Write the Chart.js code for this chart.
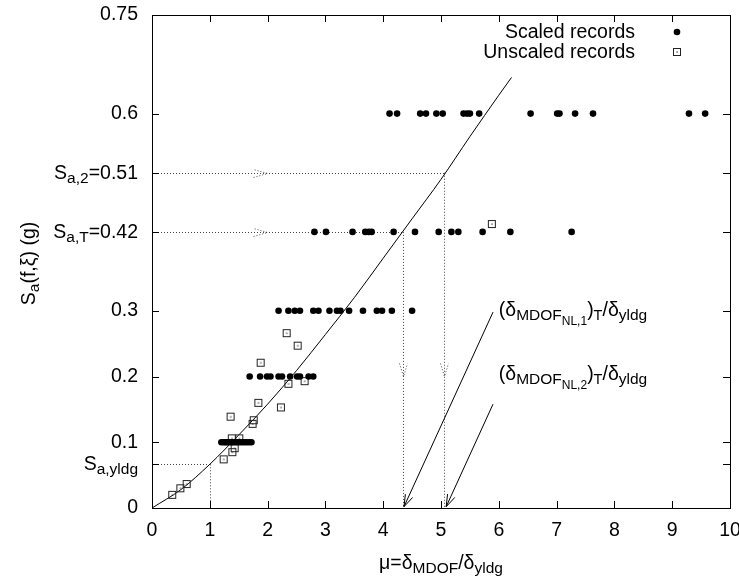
<!DOCTYPE html>
<html>
<head>
<meta charset="utf-8">
<script src="https://cdn.jsdelivr.net/npm/chart.js@4/dist/chart.umd.min.js"></script>
<style>
  body { margin: 0; background: #fff; }
  canvas { display: block; }
</style>
</head>
<body>
<canvas id="chart" width="739" height="578"></canvas>
<script>
"use strict";

// scaled records, one list of mu values per Sa level
const scaledLevels = [0.1, 0.2, 0.3, 0.42, 0.6];
const scaledMu = [
  [1.20, 1.24, 1.27, 1.30, 1.33, 1.37, 1.40, 1.44, 1.48, 1.52, 1.56, 1.60, 1.64, 1.68, 1.72],
  [1.69, 1.87, 1.99, 2.05, 2.19, 2.25, 2.39, 2.51, 2.56, 2.71, 2.79],
  [2.19, 2.36, 2.47, 2.56, 2.79, 2.88, 3.07, 3.20, 3.26, 3.41, 3.65, 3.89, 3.98, 4.15, 4.50],
  [2.81, 3.01, 3.47, 3.69, 3.75, 3.80, 4.18, 4.55, 4.96, 5.18, 5.30, 5.72, 6.20, 7.26],
  [4.11, 4.24, 4.64, 4.74, 4.92, 5.03, 5.39, 5.45, 5.50, 5.66, 6.55, 7.01, 7.05, 7.32, 7.63, 9.29, 9.57]
];

// unscaled records
const unscaledMu = [0.35, 0.49, 0.60, 1.24, 1.39, 1.43, 1.38, 1.51, 1.36, 1.74, 1.76, 1.84, 2.23, 2.36, 2.64, 1.88, 2.52, 2.33, 5.88];
const unscaledSa = [0.020, 0.030, 0.0365, 0.074, 0.085, 0.091, 0.106, 0.106, 0.139, 0.128, 0.1335, 0.160, 0.153, 0.189, 0.193, 0.221, 0.247, 0.266, 0.432];

// fitted curve
const curveMu = [0, 0.5, 1, 1.5, 2, 2.5, 3, 3.5, 4, 4.5, 5, 5.5, 6, 6.22];
const curveSa = [0, 0.028, 0.0665, 0.111, 0.158, 0.209, 0.264, 0.32, 0.38, 0.44, 0.50, 0.565, 0.628, 0.655];

// guide values
const saYldg = 0.0665;
const muYldg = 1;
const saT = 0.42, muT = 4.34;
const sa2 = 0.51, mu2 = 5.06;

const xTicks = [0, 1, 2, 3, 4, 5, 6, 7, 8, 9, 10];
const yTicks = [0, 0.1, 0.2, 0.3, 0.6, 0.75];
const ySpecialTicks = [saYldg, saT, sa2];

const FONT = '"Liberation Sans", Arial, Helvetica, sans-serif';
const F = 19.5, FS = 15.5, FSS = 12;

// square marker with a dot in the middle
const sq = document.createElement('canvas');
sq.width = 10; sq.height = 10;
(function() {
  const c = sq.getContext('2d');
  c.strokeStyle = '#222';
  c.lineWidth = 1;
  c.strokeRect(1.5, 1.5, 7, 7);
  c.fillStyle = '#222';
  c.fillRect(4.5, 4.5, 1.2, 1.2);
})();

const scaledPoints = [];
scaledLevels.forEach((lvl, i) => {
  scaledMu[i].forEach(m => scaledPoints.push({ x: m, y: lvl }));
});
const unscaledPoints = unscaledMu.map((m, i) => ({ x: m, y: unscaledSa[i] }));
const curvePoints = curveMu.map((m, i) => ({ x: m, y: curveSa[i] }));

// mixed text with subscripts; segs: [text, size, dy]
function richWidth(ctx, segs) {
  let w = 0;
  segs.forEach(s => {
    ctx.font = s[1] + 'px ' + FONT;
    w += ctx.measureText(s[0]).width;
  });
  return w;
}
function richText(ctx, segs, x, y, align) {
  let cx = x;
  if (align === 'right') cx = x - richWidth(ctx, segs);
  if (align === 'center') cx = x - richWidth(ctx, segs) / 2;
  ctx.textBaseline = 'alphabetic';
  ctx.textAlign = 'left';
  segs.forEach(s => {
    ctx.font = s[1] + 'px ' + FONT;
    ctx.fillText(s[0], cx, y + (s[2] || 0));
    cx += ctx.measureText(s[0]).width;
  });
}

function arrowHead(ctx, tx, ty, fx, fy, len, half) {
  const a = Math.atan2(ty - fy, tx - fx);
  const bx = tx - len * Math.cos(a), by = ty - len * Math.sin(a);
  const px = -Math.sin(a) * half, py = Math.cos(a) * half;
  ctx.beginPath();
  ctx.moveTo(bx + px, by + py);
  ctx.lineTo(tx, ty);
  ctx.lineTo(bx - px, by - py);
  ctx.stroke();
}

const decor = {
  id: 'decor',
  beforeDatasetsDraw(chart) {
    const ctx = chart.ctx;
    const xs = chart.scales.x, ys = chart.scales.y;
    const X = v => xs.getPixelForValue(v), Y = v => ys.getPixelForValue(v);
    ctx.save();
    // dotted guide lines
    ctx.strokeStyle = '#444';
    ctx.lineWidth = 1;
    ctx.setLineDash([1, 2]);
    [[muYldg, saYldg], [muT, saT], [mu2, sa2]].forEach(p => {
      ctx.beginPath();
      ctx.moveTo(X(0), Math.round(Y(p[1])) + 0.5);
      ctx.lineTo(X(p[0]), Math.round(Y(p[1])) + 0.5);
      ctx.moveTo(Math.round(X(p[0])) + 0.5, Y(p[1]));
      ctx.lineTo(Math.round(X(p[0])) + 0.5, Y(0));
      ctx.stroke();
    });
    // dotted arrow heads
    [saT, sa2].forEach(v => {
      const y = Math.round(Y(v)) + 0.5;
      arrowHead(ctx, X(2), y, X(0), y, 14, 4);
    });
    [muT, mu2].forEach(v => {
      const x = Math.round(X(v)) + 0.5;
      arrowHead(ctx, x, Y(0.2), x, Y(0.5), 13, 4);
    });
    ctx.restore();
  },
  afterDatasetsDraw(chart) {
    const ctx = chart.ctx;
    const a = chart.chartArea;
    const xs = chart.scales.x, ys = chart.scales.y;
    const X = v => xs.getPixelForValue(v), Y = v => ys.getPixelForValue(v);
    ctx.save();
    ctx.setLineDash([]);
    ctx.strokeStyle = '#000';
    ctx.lineWidth = 1;
    // frame
    ctx.strokeRect(Math.round(a.left) + 0.5, Math.round(a.top) + 0.5,
      Math.round(a.right - a.left), Math.round(a.bottom - a.top));
    // inward ticks
    const tl = 7;
    ctx.beginPath();
    xTicks.slice(1, -1).forEach(v => {
      const x = Math.round(X(v)) + 0.5;
      ctx.moveTo(x, a.bottom); ctx.lineTo(x, a.bottom - tl);
      ctx.moveTo(x, a.top); ctx.lineTo(x, a.top + tl);
    });
    yTicks.concat(ySpecialTicks).forEach(v => {
      if (v === 0 || v === 0.75) return;
      const y = Math.round(Y(v)) + 0.5;
      ctx.moveTo(a.left, y); ctx.lineTo(a.left + tl, y);
      ctx.moveTo(a.right, y); ctx.lineTo(a.right - tl, y);
    });
    ctx.stroke();

    // tick labels
    ctx.fillStyle = '#000';
    ctx.font = F + 'px ' + FONT;
    ctx.textAlign = 'center';
    ctx.textBaseline = 'middle';
    xTicks.forEach(v => ctx.fillText(String(v), X(v), a.bottom + 23));
    ctx.textAlign = 'right';
    yTicks.forEach(v => ctx.fillText(String(v), a.left - 14, Y(v)));
    richText(ctx, [['S', F], ['a,2', FS, 4], ['=0.51', F]], a.left - 14, Y(sa2) + 6.5, 'right');
    richText(ctx, [['S', F], ['a,T', FS, 4], ['=0.42', F]], a.left - 14, Y(saT) + 6.5, 'right');
    richText(ctx, [['S', F], ['a,yldg', FS, 4]], a.left - 14, Y(saYldg) + 6, 'right');

    // axis titles
    richText(ctx, [['\u03bc=\u03b4', F], ['MDOF', FS, 4], ['/\u03b4', F], ['yldg', FS, 4]],
      (a.left + a.right) / 2, a.bottom + 61, 'center');
    ctx.save();
    ctx.translate(35, (a.top + a.bottom) / 2 + 2);
    ctx.rotate(-Math.PI / 2);
    richText(ctx, [['S', F], ['a', FS, 4], ['(f,\u03be) (g)', F]], 0, 0, 'center');
    ctx.restore();

    // legend
    ctx.font = F + 'px ' + FONT;
    ctx.textAlign = 'right';
    ctx.textBaseline = 'middle';
    ctx.fillText('Scaled records', 635, 33);
    ctx.fillText('Unscaled records', 635, 53);
    ctx.beginPath();
    ctx.arc(677, 32, 3.3, 0, Math.PI * 2);
    ctx.fill();
    ctx.drawImage(sq, 672, 47);

    // solid arrows with labels
    ctx.lineWidth = 1;
    [[5.90, 0.298, 4.36, 0.002], [5.90, 0.158, 5.09, 0.002]].forEach(p => {
      ctx.beginPath();
      ctx.moveTo(X(p[0]), Y(p[1]));
      ctx.lineTo(X(p[2]), Y(p[3]));
      ctx.stroke();
      arrowHead(ctx, X(p[2]), Y(p[3]), X(p[0]), Y(p[1]), 12, 4);
    });
    const lab = n => [['(\u03b4', F], ['MDOF', FS, 4], ['NL,' + n, FSS, 9], [')', F], ['T', FS - 1, 4], ['/\u03b4', F], ['yldg', FS, 4]];
    richText(ctx, lab(1), X(6.0), Y(0.292), 'left');
    richText(ctx, lab(2), X(6.0), Y(0.194), 'left');
    ctx.restore();
  }
};

new Chart(document.getElementById('chart'), {
  type: 'scatter',
  data: {
    datasets: [
      {
        label: 'Scaled records',
        data: scaledPoints,
        pointStyle: 'circle',
        pointRadius: 3.3,
        backgroundColor: '#000',
        borderColor: '#000',
        borderWidth: 0
      },
      {
        label: 'Unscaled records',
        data: unscaledPoints,
        pointStyle: sq,
        backgroundColor: '#000'
      },
      {
        label: 'fit',
        data: curvePoints,
        showLine: true,
        pointRadius: 0,
        borderColor: '#000',
        borderWidth: 1,
        cubicInterpolationMode: 'monotone'
      }
    ]
  },
  options: {
    responsive: false,
    animation: false,
    events: [],
    layout: { padding: { left: 152, right: 9, top: 15, bottom: 70 } },
    plugins: { legend: { display: false }, tooltip: { enabled: false } },
    scales: {
      x: { type: 'linear', min: 0, max: 10, display: false },
      y: { type: 'linear', min: 0, max: 0.75, display: false }
    }
  },
  plugins: [decor]
});
</script>
</body>
</html>
